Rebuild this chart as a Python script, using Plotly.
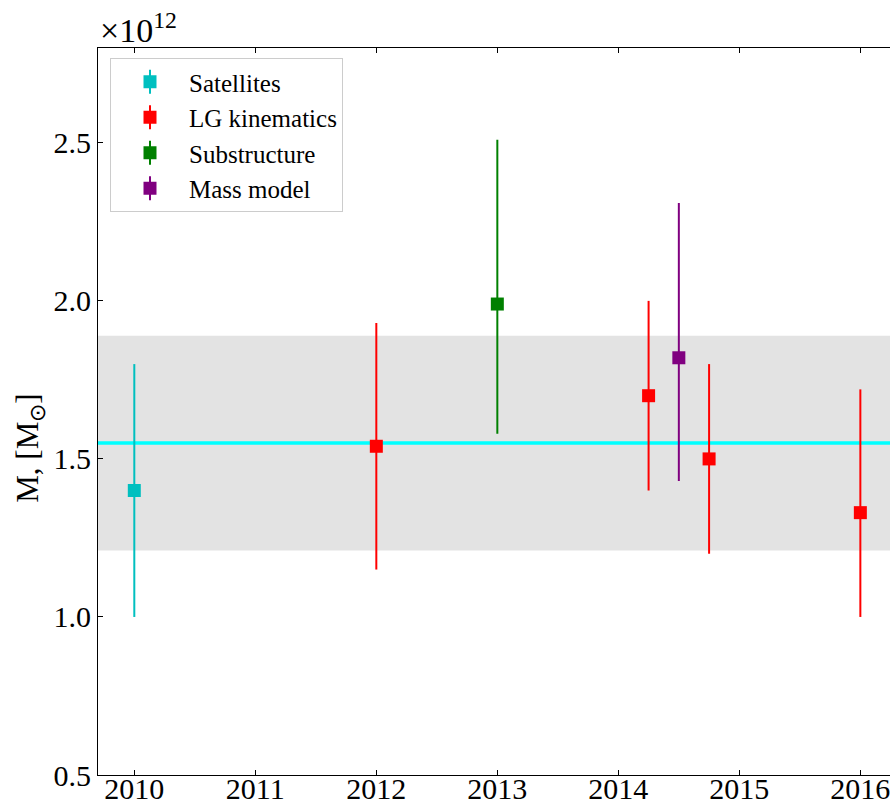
import plotly.graph_objects as go

# Milky Way mass estimates, in units of 1e12 solar masses
sat_year = [2010]
sat_mass = [1.40]
sat_low = [1.00]
sat_high = [1.80]

lg_year = [2012, 2014.25, 2014.75, 2016]
lg_mass = [1.54, 1.70, 1.50, 1.33]
lg_low = [1.15, 1.40, 1.20, 1.00]
lg_high = [1.93, 2.00, 1.80, 1.72]

sub_year = [2013]
sub_mass = [1.99]
sub_low = [1.58]
sub_high = [2.51]

mm_year = [2014.5]
mm_mass = [1.82]
mm_low = [1.43]
mm_high = [2.31]

mean_mass = 1.55
band_low = 1.21
band_high = 1.89

x_ticks = [2010, 2011, 2012, 2013, 2014, 2015, 2016]
y_ticks = [0.5, 1.0, 1.5, 2.0, 2.5]

FONT = "Liberation Serif, Times New Roman, serif"
COLORS = ["#00bfbf", "#ff0000", "#008000", "#800080"]

W, H = 890, 805
ML, MR, MT, MB = 98, 0, 48, 30
PW, PH = W - ML - MR, H - MT - MB

fig = go.Figure()

def add_series(name, xs, ys, lo, hi, color):
    fig.add_trace(go.Scatter(
        x=xs, y=ys, name=name, mode="markers",
        marker=dict(symbol="square", size=13, color=color),
        error_y=dict(type="data", symmetric=False,
                     array=[h - v for h, v in zip(hi, ys)],
                     arrayminus=[v - l for v, l in zip(ys, lo)],
                     color=color, thickness=2, width=0),
    ))

add_series("Satellites", sat_year, sat_mass, sat_low, sat_high, COLORS[0])
add_series("LG kinematics", lg_year, lg_mass, lg_low, lg_high, COLORS[1])
add_series("Substructure", sub_year, sub_mass, sub_low, sub_high, COLORS[2])
add_series("Mass model", mm_year, mm_mass, mm_low, mm_high, COLORS[3])

fig.add_shape(type="rect", xref="paper", yref="y", x0=0, x1=1,
              y0=band_low, y1=band_high, fillcolor="#e3e3e3",
              line=dict(width=0), layer="below")
fig.add_shape(type="line", xref="paper", yref="y", x0=0, x1=1,
              y0=mean_mass, y1=mean_mass, line=dict(color="#00ffff", width=3.5),
              layer="below")

# legend geometry (plotly: item height = 1.3*font + 3, symbol at itemwidth/2 + 6)
LEG_FONT = 25
ITEMW = 68
leg_left_px = ML + 12
leg_top_px = MT + 10
item_h = LEG_FONT * 1.3 + 3
sym_x_px = leg_left_px + 1 + 5 + ITEMW / 2
for i, c in enumerate(COLORS):
    cy = leg_top_px + 1 + 5 + item_h / 2 + i * item_h
    fig.add_shape(type="line", xref="paper", yref="paper",
                  x0=(sym_x_px - ML) / PW, x1=(sym_x_px - ML) / PW,
                  y0=(H - MB - (cy - 12)) / PH, y1=(H - MB - (cy + 12)) / PH,
                  line=dict(color=c, width=2), layer="above")

fig.update_layout(
    width=W, height=H,
    margin=dict(l=ML, r=MR, t=MT, b=MB, autoexpand=False),
    paper_bgcolor="white", plot_bgcolor="white",
    font=dict(family=FONT, size=30, color="black"),
    showlegend=True,
    legend=dict(x=(leg_left_px - ML) / PW, y=1 - (leg_top_px - MT) / PH,
                xanchor="left", yanchor="top",
                bgcolor="rgba(0,0,0,0)", bordercolor="#cccccc",
                borderwidth=1, font=dict(family=FONT, size=LEG_FONT),
                itemwidth=ITEMW, tracegroupgap=0),
    xaxis=dict(range=[2009.7, 2016.245], tickvals=x_ticks,
               ticktext=[str(t) for t in x_ticks], automargin=False,
               ticklabeloverflow="allow", ticklabelstandoff=-13,
               ticks="inside", ticklen=5, tickwidth=1.2, tickcolor="black",
               showline=True, linecolor="black", linewidth=1.2, mirror="ticks",
               showgrid=False, zeroline=False,
               tickfont=dict(family=FONT, size=30)),
    yaxis=dict(range=[0.5, 2.8], tickvals=y_ticks,
               ticktext=["%.1f" % t for t in y_ticks], automargin=False,
               ticks="inside", ticklen=5, tickwidth=1.2, tickcolor="black",
               showline=True, linecolor="black", linewidth=1.2,
               showgrid=False, zeroline=False,
               tickfont=dict(family=FONT, size=30)),
    annotations=[
        dict(text="M, [M<sub>⊙</sub>]", xref="paper", yref="paper",
             x=-0.086, y=0.45, textangle=-90, showarrow=False,
             font=dict(family=FONT, size=31), xanchor="center", yanchor="middle"),
        dict(text="×10<sup>12</sup>", xref="paper", yref="paper",
             x=0.0, y=1.0 + 20 / PH, xanchor="left", yanchor="middle",
             showarrow=False, font=dict(family=FONT, size=34)),
    ],
)

page_css = ("document.documentElement.style.margin='0';"
            "document.body.style.margin='0';"
            "document.documentElement.style.overflow='hidden';"
            "document.body.style.overflow='hidden';")

fig.write_html("out.html", post_script=page_css,
               config={"displayModeBar": False})
